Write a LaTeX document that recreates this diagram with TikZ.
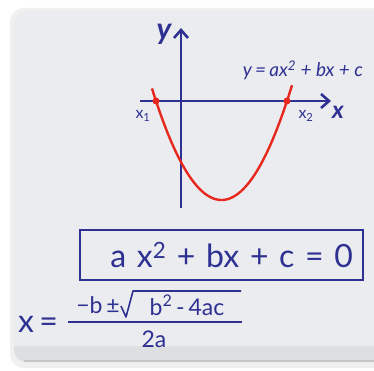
\documentclass[tikz,border=0pt]{standalone}
\usepackage{fontspec}
\setmainfont{Lato}
\usetikzlibrary{arrows.meta}
\definecolor{ink}{HTML}{2E3192}
\definecolor{marker}{HTML}{E8281E}
\definecolor{board}{HTML}{EAECEF}
\definecolor{ledge}{HTML}{DEDFE1}
\tikzset{
  axisline/.style={ink,line width=2.6pt,-{Straight Barb[length=8pt,width=14pt]}},
  curve/.style={marker,line width=2.4pt},
  rootdot/.style={circle,fill=marker,inner sep=0pt,minimum size=7pt},
  inktext/.style={ink,inner sep=0pt},
}
\begin{document}
\begin{tikzpicture}[x=1pt,y=-1pt]
\useasboundingbox (0,0) rectangle (374,371);
% board with its shadow and ledge
\fill[gray!12,rounded corners=14pt] (10,8) rectangle (390,368);
\fill[board,rounded corners=12pt] (14,11) rectangle (390,362);
\fill[ledge,rounded corners=12pt] (14,300) rectangle (390,362);
\fill[board] (14,300) rectangle (374,346);
\draw[gray!45,line width=1.2pt] (24,361) -- (374,361);

% axes
\coordinate (xstart) at (140,101);
\coordinate (xend) at (331,101);
\coordinate (ystart) at (181,208);
\coordinate (yend) at (181,28);
\draw[axisline] (xstart) -- (xend);
\draw[axisline] (ystart) -- (yend);
\node[inktext,font=\bfseries\itshape\fontsize{30}{30}\selectfont] (ylab) at (164,34) {y};
\node[inktext,font=\bfseries\itshape\fontsize{24}{24}\selectfont] (xlab) at (338,112) {x};

% parabola and its roots
\draw[curve] plot[domain=152:292,samples=80] (\x,{200-0.02308*(\x-221.5)^2});
\node[rootdot] (rootA) at (156,101) {};
\node[rootdot] (rootB) at (287,101) {};
\node[inktext,font=\fontsize{16}{16}\selectfont] (xone) at (143,116) {x\textsubscript{1}};
\node[inktext,font=\fontsize{16}{16}\selectfont] (xtwo) at (306,116) {x\textsubscript{2}};
\node[inktext,font=\itshape\fontsize{19}{19}\selectfont] (curvelab) at (303,70) {y\,=\,ax\textsuperscript{2} + bx + c};

% boxed equation
\node[draw=ink,text=ink,line width=2pt,minimum width=283pt,minimum height=50pt,
      inner xsep=10pt,inner ysep=0pt,text width=263pt,align=right,
      font=\fontsize{32}{32}\selectfont] (eqbox) at (221.5,255)
      {\raisebox{-4pt}{a x\textsuperscript{2} + bx + c = 0}};

% quadratic formula
\node[inktext,font=\fontsize{32}{32}\selectfont] (xeq) at (38,324) {x\,=};
\node[inktext,font=\fontsize{23}{23}\selectfont,anchor=east] (minusb) at (120,305) {\textminus b\,\textpm};
\node[inktext,font=\fontsize{23}{23}\selectfont] (radicand) at (187,305) {b\textsuperscript{2}\,-\,4ac};
\draw[ink,line width=1.6pt,line join=round] (121,306) -- (126,317) -- (133,291) -- (241,291);
\coordinate (barL) at (68,322);
\coordinate (barR) at (242,322);
\draw[ink,line width=1.6pt] (barL) -- (barR);
\node[inktext,font=\fontsize{23}{23}\selectfont] (den) at (154,339) {2a};
\end{tikzpicture}
\end{document}
